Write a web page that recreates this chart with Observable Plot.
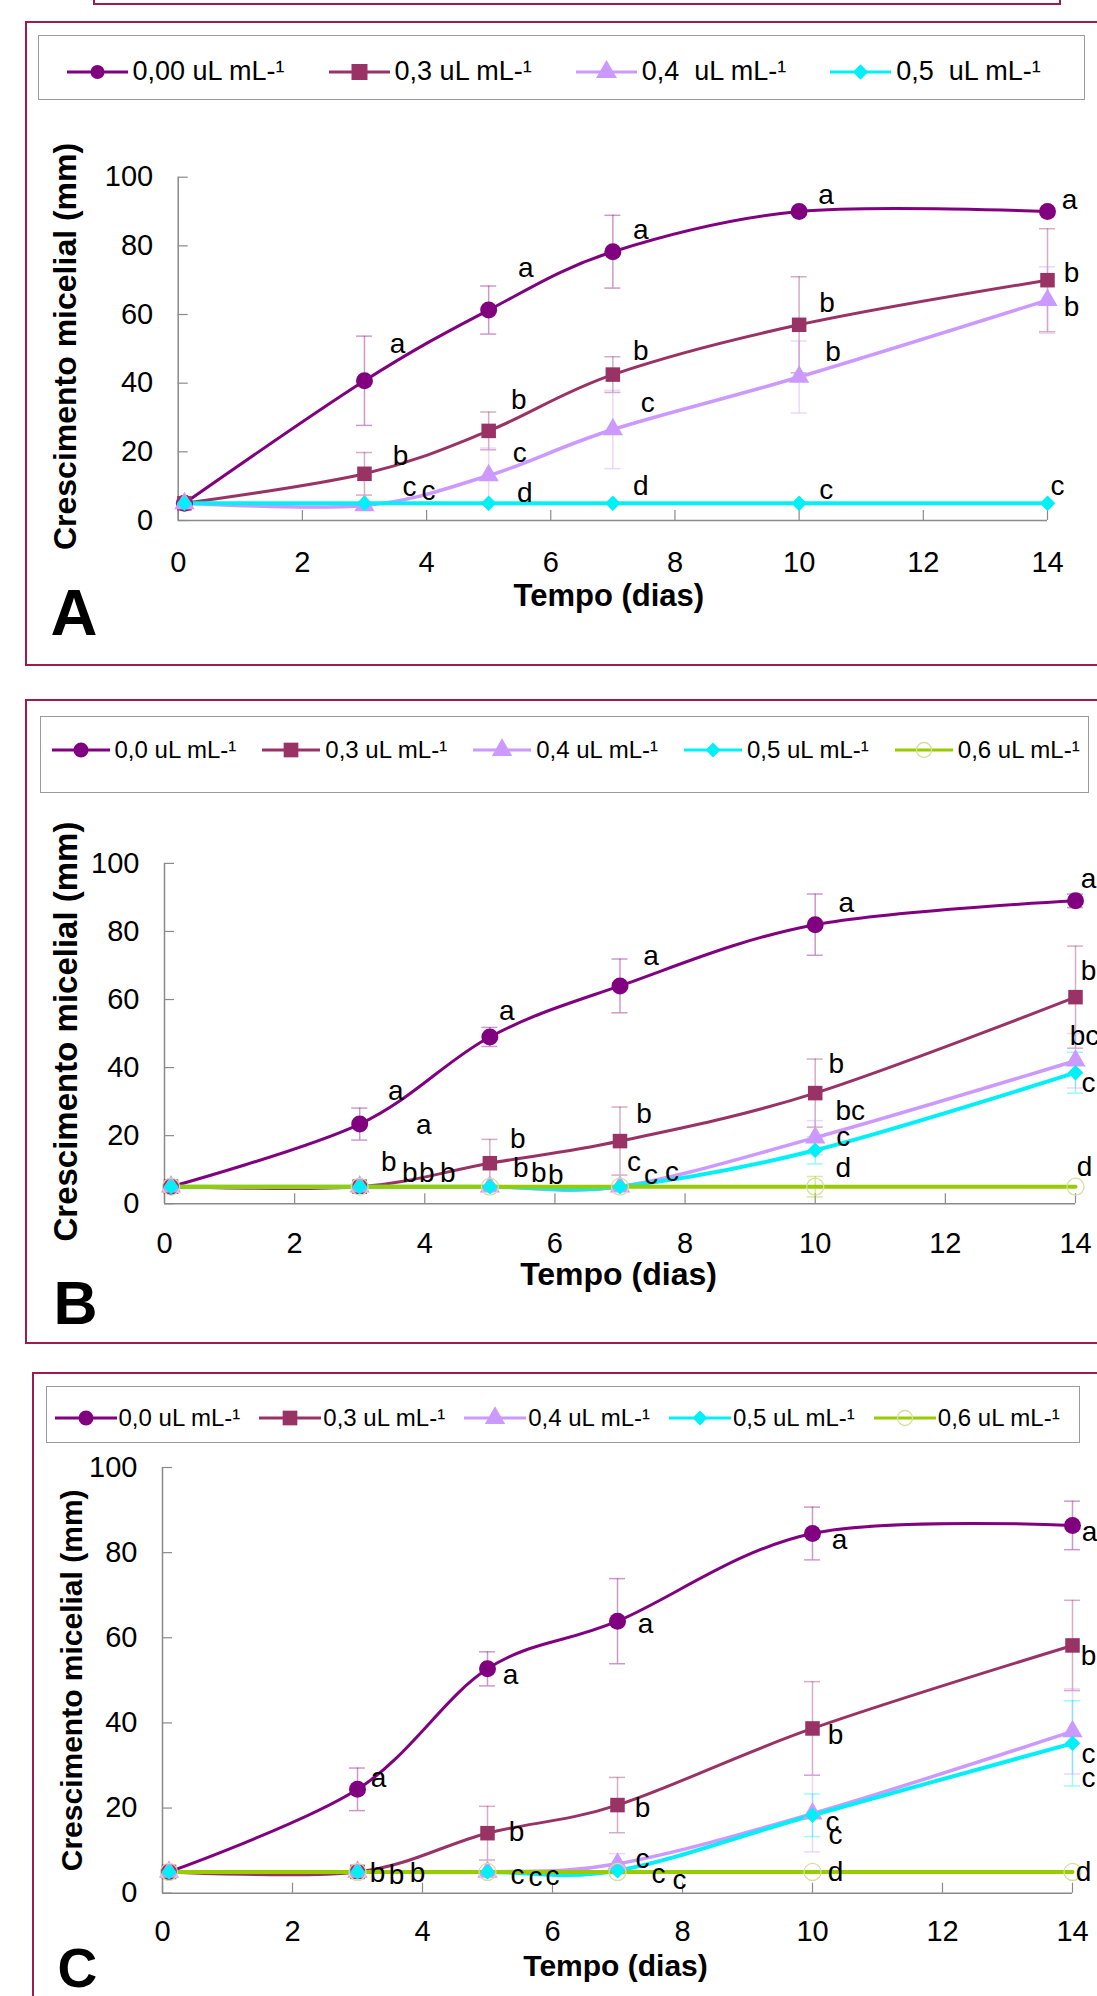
<!DOCTYPE html>
<html>
<head>
<meta charset="utf-8">
<script src="https://cdn.jsdelivr.net/npm/d3@7"></script>
<script src="https://cdn.jsdelivr.net/npm/@observablehq/plot@0.6"></script>
<style>
  html, body { margin: 0; padding: 0; background: #fff; overflow: hidden; }
  #page { position: relative; width: 1097px; height: 1996px; overflow: hidden; background: #fff;
          font-family: "Liberation Sans", Arial, Helvetica, sans-serif; }
  .frame { position: absolute; box-sizing: border-box; border: 2.5px solid #a11a4f; }
  .legend { position: absolute; box-sizing: border-box; border: 1.5px solid #9b9b9b; background: #fff; }
  .row { position: absolute; display: flex; align-items: center; height: 30px; }
  .item { display: flex; align-items: center; white-space: pre; color: #000; }
  .chart { position: absolute; left: 0; }
</style>
</head>
<body>
<div id="page"></div>
<script>
// ---------------- DATA ----------------
const days = [0.1, 3, 5, 7, 10, 14];
const xTicks = [0, 2, 4, 6, 8, 10, 12, 14];
const yTicks = [0, 20, 40, 60, 80, 100];
const xTitle = "Tempo (dias)";
const yTitle = "Crescimento micelial (mm)";

// Panel A
const labelsA = ["0,00 uL mL-¹", "0,3 uL mL-¹", "0,4  uL mL-¹", "0,5  uL mL-¹"];
const a00 = [5, 40.7, 61.3, 78.3, 90, 90];
const a03 = [5, 13.6, 26.1, 42.5, 57, 70];
const a04 = [5, 4.4, 13.1, 26.5, 41.8, 64.2];
const a05 = [5, 5, 5, 5, 5, 5];
const errA00 = [0, 13, 7, 10.6, 0, 0];
const errA03 = [0, 6.2, 5.5, 5.2, 14, 15];
const errA04 = [0, 0, 8, 11.4, 10.5, 9.7];
const errA05 = [0, 0, 0, 0, 0, 0];
const letA00 = ["", "a", "a", "a", "a", "a"];
const letA03 = ["", "b", "b", "b", "b", "b"];
const letA04 = ["", "c", "c", "c", "b", "b"];
const letA05 = ["", "c", "d", "d", "c", "c"];

// Panel B
const labelsB = ["0,0 uL mL-¹", "0,3 uL mL-¹", "0,4 uL mL-¹", "0,5 uL mL-¹", "0,6 uL mL-¹"];
const b00 = [5, 23.4, 49, 64, 82, 89];
const b03 = [5, 5, 11.9, 18.4, 32.5, 60.7];
const b04 = [5, 5, 5, 5, 19.4, 42];
const b05 = [5, 5, 5, 5, 15.7, 38.5];
const b06 = [5, 5, 5, 5, 5, 5];
const errB00 = [0, 4.7, 2.8, 7.9, 9, 2];
const errB03 = [0, 0, 7, 10, 10, 15];
const errB04 = [0, 0, 0, 0, 5, 8];
const errB05 = [0, 0, 0, 0, 4, 6];
const errB06 = [0, 0, 0, 0, 3, 0];
const letB00 = ["", "a", "a", "a", "a", "a"];
const letB03 = ["", "b", "b", "b", "b", "b"];
const letB04 = ["", "b", "b", "c", "bc", "bc"];
const letB05 = ["", "b", "b", "c", "c", "c"];
const letB06 = ["", "b", "b", "c", "d", "d"];
const letB03extra = ["", "a", "", "", "", ""];

// Panel C
const labelsC = ["0,0 uL mL-¹", "0,3 uL mL-¹", "0,4 uL mL-¹", "0,5 uL mL-¹", "0,6 uL mL-¹"];
const c00 = [5, 24.4, 52.7, 63.9, 84.5, 86.4];
const c03 = [5, 5, 14.1, 20.7, 38.7, 58.2];
const c04 = [5, 5, 5, 6.9, 18.7, 38];
const c05 = [5, 5, 5, 5.3, 18.3, 35.2];
const c06 = [5, 5, 5, 5, 5, 5];
const errC00 = [0, 5, 4, 10, 6.2, 5.7];
const errC03 = [0, 0, 6.3, 6.5, 11, 10.6];
const errC04 = [0, 0, 0, 2.4, 9, 10];
const errC05 = [0, 0, 0, 0, 5, 10];
const errC06 = [0, 0, 0, 0, 0, 0];
const letC00 = ["", "a", "a", "a", "a", "a"];
const letC03 = ["", "b", "b", "b", "b", "b"];
const letC04 = ["", "b", "c", "c", "c", "c"];
const letC05 = ["", "b", "c", "c", "c", "c"];
const letC06 = ["", "", "c", "c", "d", "d"];

// ---------------- STYLE / LAYOUT ----------------
const FONT = '"Liberation Sans", Arial, Helvetica, sans-serif';
const colors = ["#800080", "#993366", "#cc99ff", "#00f0f8", "#99cc00"];
const symbols = ["circle", "square", "triangle", "diamond2", "circle"];
const d3symbols = [d3.symbolCircle, d3.symbolSquare, d3.symbolTriangle, d3.symbolDiamond2, d3.symbolCircle];
const markerR = [8.5, 8.2, 7.5, 7, 8.5];
const lineW = [3, 3, 3.5, 4, 4];
const openStroke = "#d6dea0";
const axisColor = "#8a8a8a";

// letter offsets in px (dx, dy) for days 3,5,7,10,14
const offA = [
  [[33,-37],[37,-42],[28,-22],[27,-16],[22,-11]],
  [[36,-18],[30,-31],[28,-24],[28,-22],[24,-7]],
  [[45,-18],[31,-22],[35,-26],[34,-25],[24,7]],
  [[64,-12],[36,-10],[28,-17],[27,-13],[10,-17]]
];
const offB = [
  [[36,-33],[17,-26],[31,-30],[31,-22],[13,-22]],
  [[29,-25],[28,-24],[24,-27],[21,-29],[13,-26]],
  [[50,-14],[31,-19],[14,-25],[35,-27],[9,-25]],
  [[67,-14],[49,-14],[31,-12],[28,-13],[13,10]],
  [[88,-14],[66,-12],[52,-15],[28,-19],[9,-20]]
];
const offBextra = [[64,-62],[0,0],[0,0],[0,0],[0,0]];
const offC = [
  [[21,-11],[23,6],[28,3],[27,7],[17,7]],
  [[20,1],[29,-1],[25,3],[23,7],[16,11]],
  [[39,3],[30,3],[25,-5],[20,8],[16,23]],
  [[60,1],[48,5],[41,3],[23,20],[16,35]],
  [[0,0],[65,4],[62,8],[23,0],[11,0]]
];

const page = document.getElementById("page");

function addDiv(cls, l, t, w, h) {
  const d = document.createElement("div");
  d.className = cls;
  Object.assign(d.style, {left: l + "px", top: t + "px", width: w + "px", height: h + "px"});
  page.appendChild(d);
  return d;
}

function swatch(si, w, sizes) {
  const sym = d3.symbol(d3symbols[si], sizes[si])();
  const c = colors[si];
  const marker = si === 4
    ? `<path d="${sym}" transform="translate(${w/2},12)" fill="none" stroke="${openStroke}" stroke-width="1.3"/>`
    : `<path d="${sym}" transform="translate(${w/2},12)" fill="${c}"/>`;
  return `<svg width="${w}" height="24" style="display:block"><line x1="0" y1="12" x2="${w}" y2="12" stroke="${c}" stroke-width="3"/>${marker}</svg>`;
}

function legend(box, row, labels, opt) {
  const lg = addDiv("legend", ...box);
  const r = document.createElement("div");
  r.className = "row";
  r.style.left = row[0] + "px";
  r.style.top = row[1] + "px";
  r.style.gap = opt.gap + "px";
  labels.forEach((lab, si) => {
    const it = document.createElement("div");
    it.className = "item";
    it.innerHTML = swatch(si, opt.w, opt.sizes) + `<span style="margin-left:${opt.m}px;font-size:${opt.font}px">${lab}</span>`;
    r.appendChild(it);
  });
  lg.appendChild(r);
}

function chart(p) {
  const innerW = 1097 - p.ml - p.mr;
  const innerH = p.height - p.mt - p.mb;
  const marks = [
    Plot.ruleX([0], {y1: 0, y2: 100, stroke: axisColor, strokeWidth: 1.5}),
    Plot.ruleY([0], {x1: 0, x2: 14, stroke: axisColor, strokeWidth: 1.5}),
    Plot.tickY(yTicks, {y: d => d, insetRight: innerW - 10, stroke: axisColor, strokeWidth: 1.2}),
    Plot.tickX(xTicks, {x: d => d, insetTop: innerH - 10, stroke: axisColor, strokeWidth: 1.2}),
    Plot.axisY({ticks: yTicks, tickSize: 0, tickPadding: 25, fontSize: 29, label: null, tickFormat: d => String(d)}),
    Plot.axisX({ticks: xTicks, tickSize: 0, tickPadding: p.xPad, fontSize: 29, label: null, tickFormat: d => String(d)})
  ];
  const rowsBy = p.values.map((vals, si) => vals.map((v, di) => ({day: days[di], value: v, err: p.errs[si][di]})));
  // error bars
  rowsBy.forEach((rows, si) => {
    const eb = rows.filter(d => d.err > 0);
    const caps = eb.flatMap(d => [{day: d.day, y: d.value + d.err}, {day: d.day, y: d.value - d.err}]);
    marks.push(Plot.ruleX(eb, {x: "day", y1: d => d.value - d.err, y2: d => d.value + d.err,
      stroke: colors[si], strokeOpacity: 0.4, strokeWidth: 1.5}));
    marks.push(Plot.ruleY(caps, {y: "y", x1: "day", x2: "day", insetLeft: -8, insetRight: -8,
      stroke: colors[si], strokeOpacity: 0.4, strokeWidth: 1.5}));
  });
  // lines
  rowsBy.forEach((rows, si) => {
    marks.push(Plot.line(rows, {x: "day", y: "value", stroke: colors[si], strokeWidth: lineW[si], curve: "cardinal"}));
  });
  // markers
  rowsBy.forEach((rows, si) => {
    if (si === 4) {
      marks.push(Plot.dot(rows, {x: "day", y: "value", symbol: "circle", r: markerR[si], fill: "none", stroke: openStroke, strokeWidth: 1.3}));
    } else {
      marks.push(Plot.dot(rows, {x: "day", y: "value", symbol: symbols[si], r: markerR[si], fill: colors[si], stroke: "none"}));
    }
  });
  // letters
  const pushLetters = (letters, si, offs) => {
    letters.forEach((t, di) => {
      if (!t) return;
      const o = offs[di - 1];
      marks.push(Plot.text([{day: days[di], value: p.values[si][di], t}],
        {x: "day", y: "value", text: "t", dx: o[0], dy: o[1], fontSize: 28, fill: "#000"}));
    });
  };
  p.letters.forEach((letters, si) => pushLetters(letters, si, p.offs[si]));
  if (p.extra) pushLetters(p.extra.letters, p.extra.si, p.extra.offs);
  // titles
  marks.push(Plot.text([xTitle], {text: d => d, frameAnchor: "bottom", textAnchor: "middle", lineAnchor: "middle",
    dx: p.tx[0], dy: p.tx[1], fontSize: p.tx[2], fontWeight: "bold", fill: "#000"}));
  marks.push(Plot.text([yTitle], {text: d => d, frameAnchor: "left", textAnchor: "middle", lineAnchor: "middle",
    rotate: -90, dx: p.ty[0], dy: p.ty[1], fontSize: p.ty[2], fontWeight: "bold", fill: "#000"}));
  marks.push(Plot.text([p.tag], {text: d => d, frameAnchor: "bottom-left", textAnchor: "start", lineAnchor: "middle",
    dx: p.tl[0], dy: p.tl[1], fontSize: p.tl[2], fontWeight: "bold", fill: "#000"}));

  const svg = Plot.plot({
    width: 1097, height: p.height,
    marginLeft: p.ml, marginRight: p.mr, marginTop: p.mt, marginBottom: p.mb,
    x: {domain: [0, 14]},
    y: {domain: [0, 100]},
    style: {background: "none", overflow: "visible", fontFamily: FONT, color: "#000"},
    marks
  });
  svg.classList.add("chart");
  svg.style.position = "absolute";
  svg.style.left = "0px";
  svg.style.top = p.top + "px";
  page.appendChild(svg);
}

// ---------- frames ----------
addDiv("frame", 92.75, -100, 968.5, 105.25);
addDiv("frame", 24.75, 20.75, 1200, 645.5);
addDiv("frame", 24.75, 698.75, 1200, 645.5);
addDiv("frame", 31.75, 1371.75, 1200, 800);

// ---------- legends ----------
legend([38.25, 35.25, 1046.5, 64.5], [27.25, 20.25], labelsA,
  {gap: 44, w: 61, m: 5, font: 27, sizes: [154, 256, 190, 150, 177]});
legend([40, 716.25, 1049, 76.5], [10.5, 17.25], labelsB,
  {gap: 26, w: 58, m: 5, font: 24, sizes: [177, 216, 180, 140, 177]});
legend([46.25, 1386.25, 1033.5, 56.5], [7.25, 15.25], labelsC,
  {gap: 19, w: 62, m: 2, font: 24, sizes: [177, 216, 180, 140, 177]});

// ---------- charts ----------
chart({
  tag: "A", top: 110, height: 555, ml: 177.7, mr: 50, mt: 66.7, mb: 145, xPad: 31.3,
  values: [a00, a03, a04, a05], errs: [errA00, errA03, errA04, errA05],
  letters: [letA00, letA03, letA04, letA05], offs: offA,
  tx: [-4, 75.7, 31], ty: [-112.7, -2.4, 32], tl: [-127.7, 94, 65]
});
chart({
  tag: "B", top: 795, height: 548, ml: 164, mr: 22, mt: 67.9, mb: 139.8, xPad: 28.9,
  values: [b00, b03, b04, b05, b06], errs: [errB00, errB03, errB04, errB05, errB06],
  letters: [letB00, letB03, letB04, letB05, letB06], offs: offB,
  extra: {letters: letB03extra, si: 1, offs: offBextra},
  tx: [-1.5, 71.4, 32], ty: [-98, -2, 33], tl: [-111, 101, 61]
});
chart({
  tag: "C", top: 1445, height: 551, ml: 162, mr: 25, mt: 22, mb: 103.3, xPad: 26.9,
  values: [c00, c03, c04, c05, c06], errs: [errC00, errC03, errC04, errC05, errC06],
  letters: [letC00, letC03, letC04, letC05, letC06], offs: offC,
  tx: [-2, 73.3, 30], ty: [-90, 0, 30], tl: [-105, 76.3, 55]
});
</script>
</body>
</html>
